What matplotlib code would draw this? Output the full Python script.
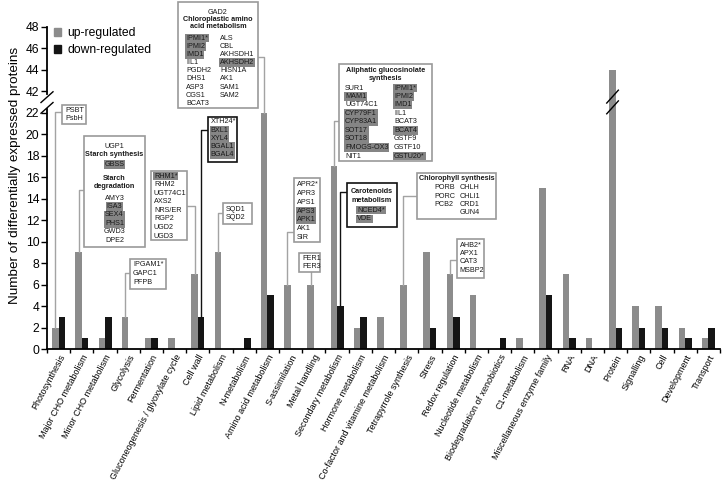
import numpy as np
import matplotlib.pyplot as plt
from matplotlib.patches import Rectangle, Patch
from matplotlib.lines import Line2D

plt.rcParams['font.family'] = ['Liberation Sans', 'DejaVu Sans']

categories = ["Photosynthesis", "Major CHO metabolism", "Minor CHO metabolism", "Glycolysis",
              "Fermentation", "Gluconeogenesis / glyoxylate cycle", "Cell wall", "Lipid metabolism",
              "N-metabolism", "Amino acid metabolism", "S-assimilation", "Metal handling",
              "Secondary metabolism", "Hormone metabolism", "Co-factor and vitamine metabolism",
              "Tetrapyrrole synthesis", "Stress", "Redox regulation", "Nucleotide metabolism",
              "Biodegradation of xenobiotics", "C1-metabolism", "Miscellaneous enzyme family",
              "RNA", "DNA", "Protein", "Signalling", "Cell", "Development", "Transport"]
up_regulated = [2, 9, 1, 3, 1, 1, 7, 9, 0, 22, 6, 6, 17, 2, 3, 6, 9, 7, 5, 0, 1, 15, 7, 1, 44, 4, 4, 2, 1]
down_regulated = [3, 1, 3, 0, 1, 0, 3, 0, 1, 5, 0, 0, 4, 3, 0, 0, 2, 3, 0, 1, 0, 5, 1, 0, 2, 2, 2, 1, 2]
y_ticks = [0, 2, 4, 6, 8, 10, 12, 14, 16, 18, 20, 22, 42, 44, 46, 48]

# broken axis: 22 -> 42 squeezed into 2 units
BREAK_LOW, BREAK_HIGH, GAP = 22, 42, 2


def squash(v):
    return v if v <= BREAK_LOW else v - (BREAK_HIGH - BREAK_LOW) + GAP


W, H = 722, 484
UP_COL, DOWN_COL = '#8c8c8c', '#151515'
LINE_GRAY, BOX_GRAY = '#a3a3a3', '#9a9a9a'

fig = plt.figure(figsize=(W / 100, H / 100), dpi=100)
ax = fig.add_axes([47 / W, 1 - 349 / H, (720 - 47) / W, (349 - 26.8) / H])

x = np.arange(len(categories))
bw = 0.28
up_h = [squash(v) for v in up_regulated]
down_h = [squash(v) for v in down_regulated]
ax.bar(x - bw / 2, up_h, bw, color=UP_COL, label='up-regulated')
ax.bar(x + bw / 2, down_h, bw, color=DOWN_COL, label='down-regulated')

ax.set_xlim(-0.5, len(categories) - 0.5)
ax.set_ylim(0, squash(48))

for s in ['top', 'right', 'left']:
    ax.spines[s].set_visible(False)
ax.spines['bottom'].set_linewidth(1.3)

# left spine drawn in two pieces with break marks
yt = ax.get_yaxis_transform()
ax.plot([0, 0], [0, BREAK_LOW + 0.3], transform=yt, color='k', lw=1.3, clip_on=False)
ax.plot([0, 0], [BREAK_LOW + GAP - 0.3, squash(48)], transform=yt, color='k', lw=1.3, clip_on=False)
dx = 6 / 673
for y0 in [BREAK_LOW, BREAK_LOW + 1]:
    ax.plot([-dx, dx], [y0 - 0.05, y0 + 0.95], transform=yt, color='k', lw=1, clip_on=False)
# break marks on the Protein bar
pi = up_regulated.index(max(up_regulated))
for y0 in [BREAK_LOW, BREAK_LOW + 1]:
    ax.plot([pi - bw - 0.1, pi + 0.12], [y0 - 0.1, y0 + 1.1], color='k', lw=1, zorder=4)

ax.set_yticks([squash(t) for t in y_ticks])
ax.set_yticklabels([str(t) for t in y_ticks])
ax.tick_params(axis='y', direction='out', length=4, width=1, labelsize=8.7, pad=1.5)

ax.set_xticks(x)
ax.set_xticklabels(categories, rotation=62, ha='right', rotation_mode='anchor', fontsize=6.5)
ax.tick_params(axis='x', which='major', length=0, pad=3)
ax.set_xticks(np.arange(-0.5, len(categories)), minor=True)
ax.tick_params(axis='x', which='minor', direction='out', length=3, width=1)

ax.set_ylabel('Number of differentially expressed proteins', fontsize=9.7)
ax.yaxis.set_label_coords(-0.039, 0.54)

ax.legend(handles=[Patch(color=UP_COL), Patch(color=DOWN_COL)],
          labels=['up-regulated', 'down-regulated'],
          loc='upper left', bbox_to_anchor=(54 / W, 1 - 27 / H), bbox_transform=fig.transFigure,
          frameon=False, borderpad=0, borderaxespad=0, handlelength=0.6, handleheight=0.6,
          handletextpad=0.5, labelspacing=0.45, fontsize=8.7)


# ---- annotation boxes (pixel layout) ----
def fx(xp):
    return xp / W


def fy(yp):
    return 1 - yp / H


def box(x0, y0, x1, y1, edge=BOX_GRAY):
    fig.add_artist(Rectangle((fx(x0), fy(y1)), (x1 - x0) / W, (y1 - y0) / H,
                             transform=fig.transFigure, fc='white', ec=edge, lw=1.2, zorder=5))


def label(xp, yp, s, kind='n', ha='left'):
    kw = dict(fontsize=5.2, ha=ha, va='center', zorder=6, color='#1a1a1a')
    if kind == 'b':
        kw['weight'] = 'bold'
    if kind == 'h':
        kw['bbox'] = dict(boxstyle='square,pad=0.12', fc='#858585', ec='none')
    fig.text(fx(xp), fy(yp), s, **kw)


def column(xp, y0, step, names, ha='left'):
    for i, n in enumerate(names):
        label(xp, y0 + i * step, n.lstrip('#'), 'h' if n.startswith('#') else 'n', ha)


def connector(cat, series, elbow_y, edge_x, color=LINE_GRAY):
    off = -bw / 2 if series == 'up' else bw / 2
    val = up_h[cat] if series == 'up' else down_h[cat]
    bx, by = ax.transData.transform((cat + off, val))
    by = H - by
    xs = [bx, bx] if edge_x is None else [bx, bx, edge_x]
    ys = [by, elbow_y] if edge_x is None else [by, elbow_y, elbow_y]
    fig.add_artist(Line2D([fx(v) for v in xs], [fy(v) for v in ys],
                          transform=fig.transFigure, color=color, lw=1.0, zorder=3))


# Photosynthesis
box(62, 105, 86, 124)
column(65, 110, 8.6, ['PSBT', 'PsbH'])
connector(0, 'up', 112, 62)

# Major CHO
box(84, 136, 145, 247)
cx = 114.5
label(cx, 146, 'UGP1', ha='center')
label(cx, 155, 'Starch synthesis', 'b', 'center')
label(cx, 164.5, 'GBSS', 'h', 'center')
label(cx, 179, 'Starch', 'b', 'center')
label(cx, 187, 'degradation', 'b', 'center')
column(cx, 198, 8.5, ['AMY3', '#ISA3', '#SEX4', '#PHS1', 'GWD3', 'DPE2'], 'center')
connector(1, 'up', 190, 84)

# Glycolysis
box(130, 259, 166, 289)
column(133, 265, 8.6, ['IPGAM1*', 'GAPC1', 'PFPB'])
connector(3, 'up', 273, 130)

# Cell wall
box(151, 171, 187, 240)
column(154, 176, 8.6, ['#RHM1*', 'RHM2', 'UGT74C1', 'AXS2', 'NRS/ER', 'RGP2', 'UGD2', 'UGD3'])
connector(6, 'up', 206, 187)

box(208, 117, 237, 162, edge='#111111')
column(210.5, 122, 8.1, ['XTH24*', '#BXL1', '#XYL4', '#BGAL1', '#BGAL4'])
connector(6, 'down', 130, 208, color='#111111')

# Lipid metabolism
box(223, 203, 252, 224)
column(226, 209, 8.6, ['SQD1', 'SQD2'])
connector(7, 'up', 213, 223)

# Amino acid metabolism
box(178, 2, 258, 108)
cx = 218
label(cx, 12, 'GAD2', ha='center')
label(cx, 19.5, 'Chloroplastic amino', 'b', 'center')
label(cx, 27, 'acid metabolism', 'b', 'center')
column(186, 38, 8.2, ['#IPMI1*', '#IPMI2', '#IMD1', 'IIL1', 'PGDH2', 'DHS1', 'ASP3', 'CGS1', 'BCAT3'])
column(220, 38, 8.2, ['ALS', 'CBL', 'AKHSDH1', '#AKHSDH2', 'HISN1A', 'AK1', 'SAM1', 'SAM2'])
connector(9, 'up', 57, 258)

# S-assimilation
box(294, 178, 320, 242)
column(296.5, 185, 8.7, ['APR2*', 'APR3', 'APS1', '#APS3', '#APK1', 'AK1', 'SIR'])
connector(10, 'up', 232, 294)

# Metal handling
box(299, 253, 320, 272)
column(302, 258, 8.6, ['FER1', 'FER3'])
connector(11, 'up', 272, None)

# Secondary metabolism
box(339, 64, 432, 161)
label(385.5, 70, 'Aliphatic glucosinolate', 'b', 'center')
label(385.5, 79, 'synthesis', 'b', 'center')
column(345, 88, 8.5, ['SUR1', '#MAM1', 'UGT74C1', '#CYP79F1', '#CYP83A1', '#SOT17', '#SOT18',
                      '#FMOGS-OX3', 'NIT1'])
column(394, 88, 8.5, ['#IPMI1*', '#IPMI2', '#IMD1', 'IIL1', 'BCAT3', '#BCAT4', 'GSTF9', 'GSTF10',
                      '#GSTU20*'])
connector(12, 'up', 121, 339)

box(347, 183, 397, 227, edge='#111111')
label(372, 191.5, 'Carotenoids', 'b', 'center')
label(372, 200, 'metabolism', 'b', 'center')
column(357, 210, 9, ['#NCED4*', '#VDE'])
connector(12, 'down', 192, 347, color='#111111')

# Tetrapyrrole synthesis
box(417, 173, 496, 219)
label(456.5, 178, 'Chlorophyll synthesis', 'b', 'center')
column(434, 187.7, 8.4, ['PORB', 'PORC', 'PCB2'])
column(460, 187.7, 8.4, ['CHLH', 'CHLI1', 'CRD1', 'GUN4'])
connector(15, 'up', 196, 417)

# Redox regulation
box(457, 239, 484, 278)
column(459.5, 245, 8.4, ['AHB2*', 'APX1', 'CAT3', 'MSBP2'])
connector(17, 'up', 260, 457)

fig.savefig('out.png', dpi=100)
